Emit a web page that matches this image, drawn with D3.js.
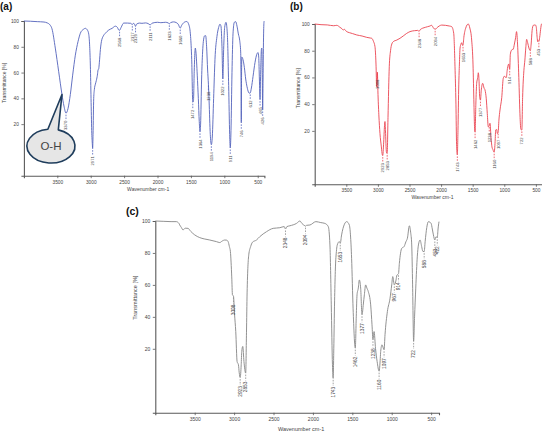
<!DOCTYPE html>
<html>
<head>
<meta charset="utf-8">
<script src="https://cdn.jsdelivr.net/npm/d3@7"></script>
<style>
  body { margin: 0; background: #fff; }
  svg { display: block; }
  text { font-family: "Liberation Sans", Arial, sans-serif; }
</style>
</head>
<body>
<svg id="chart" width="542" height="432"></svg>
<script>
// ---- data (wavenumber cm-1 / transmittance %) ----
var waveA = [4000,3900,3800,3700,3650,3610,3580,3530,3480,3430,3400,3370,3340,3305,3270,3230,3190,3155,3110,3080,3050,3030,3015,3005,2995,2985,2975,2971,2965,2955,2945,2930,2915,2900,2890,2880,2870,2855,2840,2810,2780,2730,2680,2630,2600,2580,2568,2545,2506,2450,2400,2377,2360,2340,2329,2315,2270,2233,2180,2140,2111,2080,2000,1950,1880,1840,1823,1805,1760,1720,1690,1660,1640,1600,1563,1530,1505,1488,1472,1462,1450,1440,1434,1425,1405,1389,1375,1364,1355,1340,1325,1314,1295,1279,1265,1250,1238,1228,1210,1194,1180,1160,1140,1110,1085,1065,1050,1035,1022,1010,995,975,955,935,920,911,900,885,870,850,830,810,790,770,755,750,746,742,738,720,700,680,660,640,625,612,595,570,540,515,495,485,475,465,458,445,438,432,426,420,412,405,400];
var transA = [100,99.8,99.5,99.2,98.5,97,94,79,61,43,34,28.5,32,43,58,73.5,84,90.5,93.5,94.3,93,90,80,65,40,15,4,1,12,40,47,51,54,58,62,63,68,78,84,88.5,90.5,93,94.3,96,95,93,92.8,95,98.4,98.4,98.2,97.2,98.3,97,95.8,97.5,98.4,98.2,98.5,98,97,98.3,99,98.7,99,98.5,97.8,98.7,99.3,98.8,97.5,94.5,96.5,99,99.6,97,88,70,37,38,62,76,79,76,58,40,22,14,20,55,76,84,88.5,88.6,80,62,51,38,12,4,10,40,70,88,95,97.5,96,80,55,78,95,99,90,50,12,1.5,15,60,90,99,99.5,96,90,85,76,55,21,58,72,70,64,55,49,45,44,44.2,48,57,68,74,75.5,72,55,39,55,78,79,60,31,55,90,99.5,100];
var peaksA = [3370,2971,2568,2377,2329,2111,1823,1660,1472,1364,1238,1194,1022,911,746,612,465,426];

var waveB = [4000,3900,3800,3700,3650,3600,3570,3550,3530,3500,3450,3400,3335,3250,3177,3120,3098,3070,3046,3030,3019,3012,3008,3000,2985,2967,2945,2930,2923,2910,2895,2888,2880,2865,2853,2840,2820,2800,2780,2756,2700,2650,2600,2550,2492,2420,2370,2348,2330,2250,2176,2150,2120,2094,2070,2030,1990,1930,1870,1832,1800,1780,1765,1755,1743,1733,1720,1710,1700,1685,1674,1660,1653,1640,1610,1570,1545,1516,1495,1480,1470,1462,1450,1437,1420,1411,1400,1390,1377,1365,1342,1320,1305,1285,1269,1253,1238,1226,1210,1195,1180,1160,1145,1136,1120,1110,1097,1085,1068,1040,1016,995,980,967,955,945,930,914,905,890,870,860,840,820,806,790,770,750,737,722,710,690,674,660,646,630,610,588,575,560,541,510,495,480,472,460,453,440,425,410,400];
var transB = [100,99.5,99.3,98.7,99,97.5,96.5,95.5,96,94.5,93.5,92.8,91.8,91,90,89.5,89.3,87,83,70,53,60,64,50,32,18,8,2,1.5,10,24,27,20,4,3,30,68,80,85,86.8,88,89.3,91,92.8,94.3,95,95.2,94.5,95.8,97.5,98.5,99,97,96,97,98.5,99.2,99,98.5,98,93,68,40,10,2,20,55,70,82,85,86,84,84,90,97,100,97,88,70,40,22,19,40,55.6,60,63.5,58,46,43,50,55.6,52,50.6,44,33,23,24,25.7,15,8,6,4,12,20.7,21,18,19,28,35.6,45,59.4,61,60,60,65,68,70,66,77,80,81,81,85,90,94.3,85,60,30,21,20.7,45,65,73,82,88.5,86,82,80,85,95,99,99.3,98,90,86.8,87.5,87,90,96,100,100];
var peaksB = [3008,2923,2853,2348,2094,1743,1653,1462,1377,1238,1160,1097,914,722,588,453];

var waveC = [4000,3900,3800,3733,3700,3690,3670,3648,3620,3585,3550,3500,3436,3380,3309,3225,3182,3150,3119,3095,3076,3060,3047,3030,3021,3008,2995,2979,2962,2945,2935,2923,2910,2903,2890,2875,2853,2843,2835,2814,2790,2767,2716,2674,2589,2504,2420,2364,2348,2330,2292,2208,2165,2140,2102,2094,2080,2038,1962,1900,1848,1805,1784,1767,1752,1743,1735,1725,1716,1700,1691,1665,1653,1636,1600,1572,1538,1509,1490,1462,1450,1440,1424,1411,1394,1377,1360,1347,1331,1315,1297,1267,1250,1238,1224,1205,1185,1160,1145,1140,1123,1097,1085,1055,1021,1000,987,967,945,935,914,903,873,843,820,801,776,760,746,735,722,710,695,675,661,640,620,605,588,576,555,534,515,500,485,471,453,440,428,422,412,400];
var transC = [100,99.8,99.6,99.6,98.5,97.5,96,94.4,95.5,95.4,93.5,91.3,89.6,88.8,88.1,87.1,86.5,87.5,88.1,88,87.1,84,80.8,65,53.8,53,42,30.8,12,10,5,2,10,18.3,21.5,12,4.8,30,55,78.8,84,86.7,88.1,90.2,93.3,95.4,95.8,96.5,95,96.5,97,98.5,100,98.5,97,96.8,97.3,97.5,99.6,99,98.5,96.5,85,47.5,10,1.5,20,50,68.3,82,85,87.1,86,91.3,98,99.6,97.5,76.7,45,20.4,40,53.8,58,63.1,58,41.3,48,53.8,60,58,55.8,47.5,35,25.6,30.8,20,12,6,14,18.3,22.5,19.4,28.8,43.3,51.7,60,65.2,60,63.1,66,67,73.5,82.9,84,87,89.2,97,93,85,60,24.6,40,58,78,85,88.1,84,81,80.8,87,96,99.6,99.2,98.5,95,91.3,88.1,90,90,89.5,95,99.6];
var peaksC = [3008,2923,2853,2348,2094,1743,1653,1462,1377,1238,1160,1097,967,914,722,588,453,422];

var xTicks = [3500, 3000, 2500, 2000, 1500, 1000, 500];
var yTicks = [20, 40, 60, 80, 100];
var xDomain = [4000, 400];
var yDomain = [-20, 100];

function Spectrum(svg, cfg) {
  var self = this;
  var _g = d3.select(svg).append("g"),
      _x = d3.scaleLinear().domain(xDomain).range([cfg.left, cfg.right]),
      _y = d3.scaleLinear().domain(yDomain).range([cfg.bottom, cfg.top]);

  function valueAt(w) {
    var wv = cfg.wave, tv = cfg.trans;
    for (var i = 0; i < wv.length - 1; i++) {
      if (w <= wv[i] && w >= wv[i + 1]) {
        var f = (wv[i] - w) / (wv[i] - wv[i + 1]);
        return tv[i] + f * (tv[i + 1] - tv[i]);
      }
    }
    return tv[tv.length - 1];
  }

  self.render = function() {
    // axes
    var xAxis = d3.axisBottom(_x).tickValues(xTicks).tickSize(2.5).tickPadding(2).tickFormat(d3.format("d"));
    var yAxis = d3.axisLeft(_y).tickValues(yTicks).tickSize(2.5).tickPadding(2.5);

    _g.append("g").attr("class", "x axis")
      .attr("transform", "translate(0," + cfg.bottom + ")")
      .call(xAxis);
    _g.append("g").attr("class", "y axis")
      .attr("transform", "translate(" + cfg.left + ",0)")
      .call(yAxis);

    _g.selectAll(".axis path").attr("stroke", "#5a5a5a").attr("stroke-width", 1.1);
    _g.selectAll(".axis line").attr("stroke", "#5a5a5a").attr("stroke-width", 0.8);
    _g.selectAll(".axis text").attr("fill", "#444").style("font-size", cfg.tickFont + "px");

    _g.append("text")
      .attr("x", (cfg.left + cfg.right) / 2 + 4)
      .attr("y", cfg.bottom + cfg.titleGap)
      .attr("text-anchor", "middle")
      .attr("fill", "#444")
      .style("font-size", cfg.titleFont + "px")
      .text("Wavenumber cm-1");

    _g.append("text")
      .attr("transform", "translate(" + cfg.yTitleX + "," + _y(52) + ") rotate(-90)")
      .attr("text-anchor", "middle")
      .attr("fill", "#444")
      .style("font-size", cfg.titleFont + "px")
      .text("Transmittance [%]");

    _g.append("text")
      .attr("x", cfg.tagX).attr("y", cfg.tagY)
      .attr("font-weight", "bold")
      .attr("fill", "#111")
      .style("font-size", cfg.tagFont + "px")
      .text(cfg.tag);

    // spectrum
    var pts = cfg.wave.map(function(w, i) { return [w, cfg.trans[i]]; });
    var line = d3.line()
      .x(function(d) { return _x(d[0]); })
      .y(function(d) { return _y(d[1]); })
      .curve(d3.curveMonotoneX);

    _g.append("path")
      .datum(pts)
      .attr("fill", "none")
      .attr("stroke", cfg.color)
      .attr("stroke-width", cfg.lineWidth)
      .attr("stroke-linejoin", "round")
      .attr("d", line);

    // peak labels
    var peak = _g.selectAll(".peak").data(cfg.peaks)
      .enter().append("g").attr("class", "peak");

    peak.append("line")
      .attr("x1", function(d) { return _x(d); })
      .attr("x2", function(d) { return _x(d); })
      .attr("y1", function(d) { return _y(valueAt(d)) + 1.5; })
      .attr("y2", function(d) { return _y(valueAt(d)) + 1.5 + cfg.leader; })
      .attr("stroke", cfg.color)
      .attr("stroke-width", 0.8)
      .attr("stroke-dasharray", "1.6,1.2");

    peak.append("text")
      .attr("transform", function(d) {
        return "translate(" + (_x(d) + cfg.peakFont * 0.36) + "," + (_y(valueAt(d)) + 2.5 + cfg.leader) + ") rotate(-90)";
      })
      .attr("text-anchor", "end")
      .attr("fill", "#444")
      .style("font-size", cfg.peakFont + "px")
      .text(function(d) { return d; });

    // callout
    if (cfg.callout) {
      var c = cfg.callout;
      var tipX = _x(c.wave), tipY = _y(valueAt(c.wave));
      var cx = _x(c.cw), cy = _y(c.ct);
      var lx = cx + c.rx * Math.cos(c.a1), ly = cy + c.ry * Math.sin(c.a1);
      var rx2 = cx + c.rx * Math.cos(c.a2), ry2 = cy + c.ry * Math.sin(c.a2);
      _g.append("path")
        .attr("d", "M" + lx + "," + ly + "L" + tipX + "," + tipY + "L" + rx2 + "," + ry2 +
             "A" + c.rx + "," + c.ry + " 0 1 1 " + lx + "," + ly + "Z")
        .attr("fill", "#e6e6e6")
        .attr("stroke", "#1f3d5c")
        .attr("stroke-width", 1.6)
        .attr("stroke-linejoin", "round");
      _g.append("text")
        .attr("x", cx).attr("y", cy + 4)
        .attr("text-anchor", "middle")
        .attr("fill", "#444")
        .style("font-size", "11.5px")
        .text(c.label);
    }
  };
}

var svg = document.getElementById("chart");

var panels = [
  { tag: "(a)", wave: waveA, trans: transA, peaks: peaksA, color: "#5262bb",
    left: 23.9, right: 264.4, top: 21, bottom: 175.7,
    tickFont: 4.8, titleFont: 5, peakFont: 4.2, leader: 5, lineWidth: 0.9, titleGap: 15,
    yTitleX: 6, tagX: 0, tagY: 10, tagFont: 10,
    callout: { wave: 3430, cw: 3595, ct: 3, rx: 24, ry: 17, a1: -1.70, a2: -1.26, label: "O-H" } },
  { tag: "(b)", wave: waveB, trans: transB, peaks: peaksB, color: "#ea4450",
    left: 314.7, right: 542.2, top: 24, bottom: 184.3,
    tickFont: 4.8, titleFont: 5, peakFont: 4.2, leader: 5, lineWidth: 0.9, titleGap: 15,
    yTitleX: 300, tagX: 290, tagY: 10, tagFont: 10 },
  { tag: "(c)", wave: waveC, trans: transC, peaks: peaksC, color: "#8c8c8c",
    left: 155.3, right: 439, top: 221, bottom: 412.7,
    tickFont: 5, titleFont: 5.5, peakFont: 4.8, leader: 6, lineWidth: 0.95, titleGap: 18,
    yTitleX: 137, tagX: 126, tagY: 215, tagFont: 10.5 }
];

panels.forEach(function(p) {
  var s = new Spectrum(svg, p);
  s.render();
});
</script>
</body>
</html>
